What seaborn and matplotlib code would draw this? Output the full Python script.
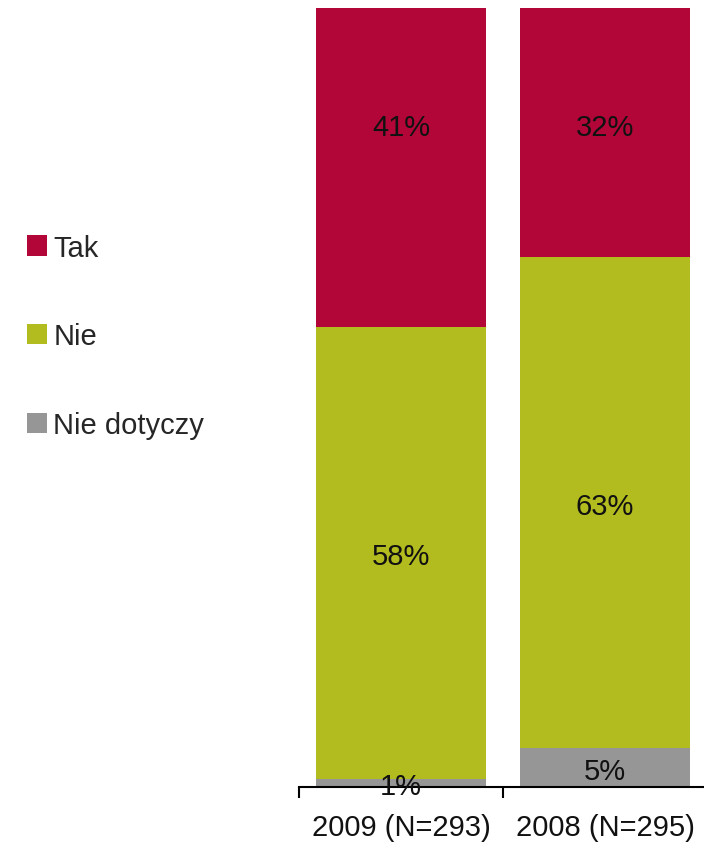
import matplotlib
matplotlib.use("Agg")
import matplotlib.pyplot as plt
import matplotlib.transforms as mtransforms
import seaborn as sns
import pandas as pd
from matplotlib.patches import Patch

# Survey answers per year, in percent
years = ["2009 (N=293)", "2008 (N=295)"]
tak = [41, 32]
nie = [58, 63]
nie_dotyczy = [1, 5]

series_names = ["Tak", "Nie", "Nie dotyczy"]
colors = {"Tak": "#B30638", "Nie": "#B3BC1E", "Nie dotyczy": "#969696"}

df = pd.DataFrame({"rok": years, "Tak": tak, "Nie": nie, "Nie dotyczy": nie_dotyczy})
df["top_nie"] = df["Nie dotyczy"] + df["Nie"]
df["top_tak"] = df["top_nie"] + df["Tak"]

sns.set_style("white")
plt.rcParams["font.family"] = ["Liberation Sans", "DejaVu Sans"]

fig = plt.figure(figsize=(7.04, 8.45), dpi=100)
W, H = 704, 845
ax = fig.add_axes([299 / W, (H - 788) / H, (707 - 299) / W, (788 - 9) / H])

bw = 0.833
# Stacked bars drawn as cumulative totals, largest first
sns.barplot(data=df, x="rok", y="top_tak", color=colors["Tak"], width=bw,
            saturation=1, ax=ax, linewidth=0)
sns.barplot(data=df, x="rok", y="top_nie", color=colors["Nie"], width=bw,
            saturation=1, ax=ax, linewidth=0)
sns.barplot(data=df, x="rok", y="Nie dotyczy", color=colors["Nie dotyczy"], width=bw,
            saturation=1, ax=ax, linewidth=0)

ax.set_xlim(-0.5, 1.5)
ax.set_ylim(0, 100)

fs = 21
txt_color = "#111111"
tr = mtransforms.offset_copy(ax.transData, fig=fig, x=0, y=-3, units="dots")
for i in range(len(years)):
    nd = df["Nie dotyczy"][i]
    n = df["Nie"][i]
    ax.text(i, nd / 2, f"{nd}%", ha="center", va="center", fontsize=fs,
            color=txt_color, transform=tr)
    ax.text(i, nd + n / 2, f"{n}%", ha="center", va="center", fontsize=fs,
            color=txt_color, transform=tr)
    ax.text(i, 85.1, f"{df['Tak'][i]}%", ha="center", va="center", fontsize=fs,
            color=txt_color, transform=tr)

for s in ["left", "right", "top"]:
    ax.spines[s].set_visible(False)
ax.spines["bottom"].set_color("black")
ax.spines["bottom"].set_linewidth(1.5)
ax.set_yticks([])
ax.set_ylabel("")
ax.set_xlabel("")
ax.set_xticks([0, 1])
ax.set_xticklabels(years, fontsize=fs, color=txt_color)
ax.tick_params(axis="x", which="major", length=0, pad=19)
ax.set_xticks([-0.5, 0.5, 1.5], minor=True)
ax.tick_params(axis="x", which="minor", bottom=True, length=8, width=1.5,
               direction="out", color="black")

handles = [Patch(facecolor=colors[s], edgecolor="none") for s in series_names]
fig.legend(handles, series_names, loc="upper left", bbox_to_anchor=(15 / W, 1 - 223 / H),
           frameon=False, fontsize=fs, handlelength=0.69, handleheight=0.69,
           handletextpad=0.22, labelspacing=2.08, borderaxespad=0)

fig.savefig("out.png", dpi=100)
